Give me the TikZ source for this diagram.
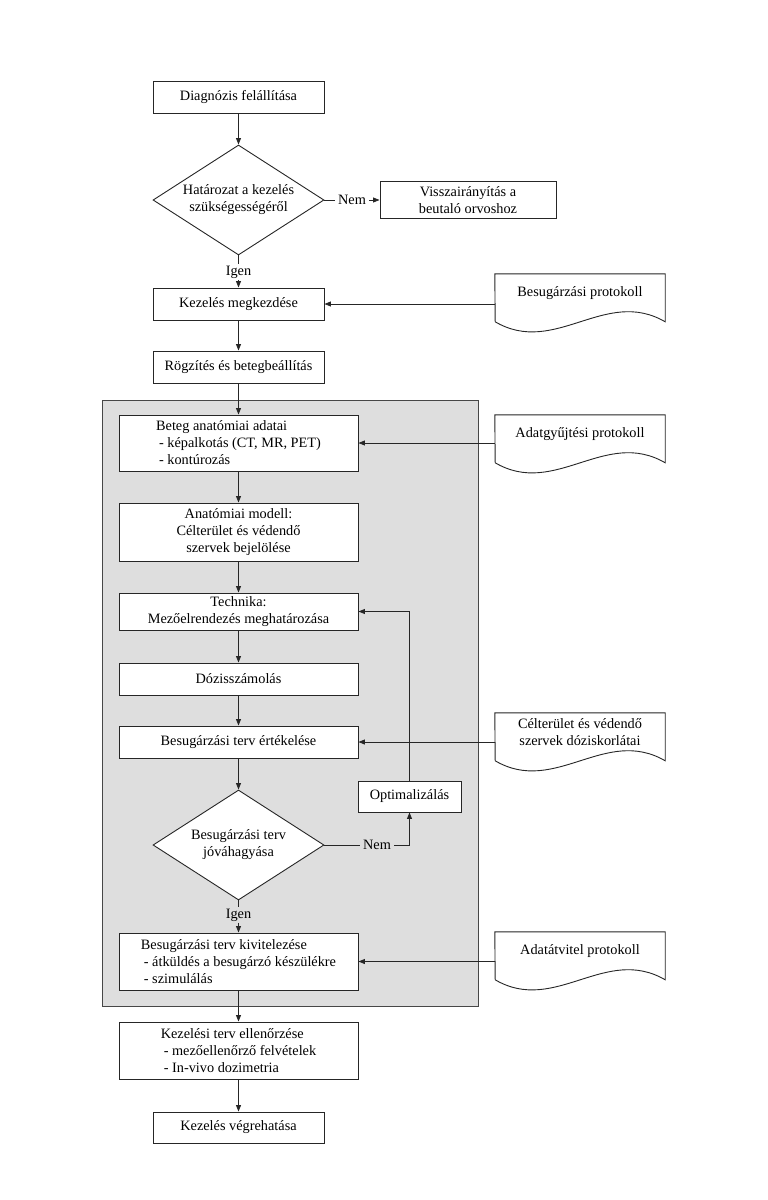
\documentclass[tikz,border=0pt]{standalone}
\usepackage{fontspec}
\setmainfont{Liberation Serif}
\usetikzlibrary{arrows.meta,shapes.geometric}
\definecolor{linec}{HTML}{262626}
\definecolor{grayfill}{HTML}{DEDEDE}
\newcommand\fs{\fontsize{14.3pt}{17pt}\selectfont}
\newcommand\mydoc[1]{\draw[docline] (#1.north west) -- (#1.north east) -- ++(0,48) .. controls +(-60,-35) and +(60,35) .. ++(-170,0) -- cycle;}
\tikzset{
  box/.style={draw=linec, line width=0.9pt, fill=white, inner sep=2pt, font=\fs, align=center},
  wide/.style={minimum width=239pt},
  narrow/.style={minimum width=171pt},
  dia/.style={diamond, draw=linec, line width=0.9pt, fill=white, inner sep=0pt, shape aspect=1.555,
     minimum width=171pt, minimum height=110pt, font=\fs, align=center},
  lbl/.style={font=\fs, inner sep=3pt},
  doc/.style={minimum width=170pt, minimum height=38pt, inner sep=0pt, font=\fs, align=center},
  docline/.style={draw=linec, line width=0.9pt, fill=white},
  ln/.style={draw=linec, line width=0.9pt},
  arr/.style={draw=linec, line width=0.9pt, -{Triangle[length=6.5pt,width=5pt]}},
  region/.style={draw=linec!85, line width=0.9pt, fill=grayfill, minimum width=376pt, minimum height=606pt, inner sep=0pt}
}
\begin{document}
\begin{tikzpicture}[x=1pt,y=-1pt]
\useasboundingbox (0,0) rectangle (768,1200);
\node[region] (grp) at (290,703) {};

\node[box, narrow, minimum height=32pt] (diag) at (238.5,97) {Diagnózis felállítása};
\node[dia] (dec1) at (238.5,200) {Határozat a kezelés\\szükségességéről};
\node[box, minimum width=176pt, minimum height=37pt] (vissza) at (468,200) {Visszairányítás a\\beutaló orvoshoz};
\node[lbl] (nem1) at (352,200) {Nem};
\node[lbl, inner sep=1.5pt] (igen1) at (238.5,272) {Igen};
\node[box, narrow, minimum height=32pt] (kezd) at (238.5,304) {Kezelés megkezdése};
\node[doc] (p1) at (580,293) {};
\mydoc{p1}
\node[doc] (p1t) at (p1) {Besugárzási protokoll};
\node[box, narrow, minimum height=32pt] (rogz) at (238.5,367) {Rögzítés és betegbeállítás};

\node[box, wide, minimum height=56pt, align=left] (beteg) at (238.5,443) {Beteg anatómiai adatai\\\hspace*{3pt}- képalkotás (CT, MR, PET)\\\hspace*{3pt}- kontúrozás};
\node[doc] (p2) at (580,434) {};
\mydoc{p2}
\node[doc] (p2t) at (p2) {Adatgyűjtési protokoll};
\node[box, wide, minimum height=58pt] (anat) at (238.5,532) {Anatómiai modell:\\Célterület és védendő\\szervek bejelölése};
\node[box, wide, minimum height=37pt] (tech) at (238.5,611.5) {Technika:\\Mezőelrendezés meghatározása};
\node[box, wide, minimum height=32pt] (doz) at (238.5,679) {Dózisszámolás};
\node[box, wide, minimum height=32pt] (ert) at (238.5,742) {Besugárzási terv értékelése};
\node[doc] (p3) at (580,732) {};
\mydoc{p3}
\node[doc] (p3t) at (p3) {Célterület és védendő\\szervek dóziskorlátai};
\node[box, minimum width=103pt, minimum height=31pt] (opt) at (409.5,796.5) {Optimalizálás};
\node[dia] (dec2) at (238.5,845) {Besugárzási terv\\jóváhagyása};
\node[lbl] (nem2) at (377,845) {Nem};
\node[lbl, inner sep=1.5pt] (igen2) at (238.5,915) {Igen};
\node[box, wide, minimum height=57pt, align=left] (kiv) at (238.5,961.5) {Besugárzási terv kivitelezése\\\hspace*{3pt}- átküldés a besugárzó készülékre\\\hspace*{3pt}- szimulálás};
\node[doc] (p4) at (580,951) {};
\mydoc{p4}
\node[doc] (p4t) at (p4) {Adatátvitel protokoll};

\node[box, wide, minimum height=57pt, align=left] (ell) at (238.5,1050.5) {Kezelési terv ellenőrzése\\\hspace*{3pt}- mezőellenőrző felvételek\\\hspace*{3pt}- In-vivo dozimetria};
\node[box, narrow, minimum height=31pt] (vegr) at (238.5,1127.5) {Kezelés végrehatása};

\draw[arr] (diag.south) -- (dec1.north);
\draw[ln] (dec1.east) -- (nem1.west);
\draw[arr] (nem1.east) -- (vissza.west);
\draw[ln] (dec1.south) -- (igen1.north);
\draw[arr] (igen1.south) -- (kezd.north);
\draw[arr] (p1.west |- kezd.east) -- (kezd.east);
\draw[arr] (kezd.south) -- (rogz.north);
\draw[arr] (rogz.south) -- (beteg.north);
\draw[arr] (p2.west |- beteg.east) -- (beteg.east);
\draw[arr] (beteg.south) -- (anat.north);
\draw[arr] (anat.south) -- (tech.north);
\draw[arr] (tech.south) -- (doz.north);
\draw[arr] (doz.south) -- (ert.north);
\draw[arr] (p3.west |- ert.east) -- (ert.east);
\draw[arr] (ert.south) -- (dec2.north);
\draw[ln] (dec2.east) -- (nem2.west);
\draw[arr] (nem2.east) -| (opt.south);
\draw[arr] (opt.north) |- (tech.east);
\draw[ln] (dec2.south) -- (igen2.north);
\draw[arr] (igen2.south) -- (kiv.north);
\draw[arr] (p4.west |- kiv.east) -- (kiv.east);
\draw[arr] (kiv.south) -- (ell.north);
\draw[arr] (ell.south) -- (vegr.north);
\end{tikzpicture}
\end{document}
